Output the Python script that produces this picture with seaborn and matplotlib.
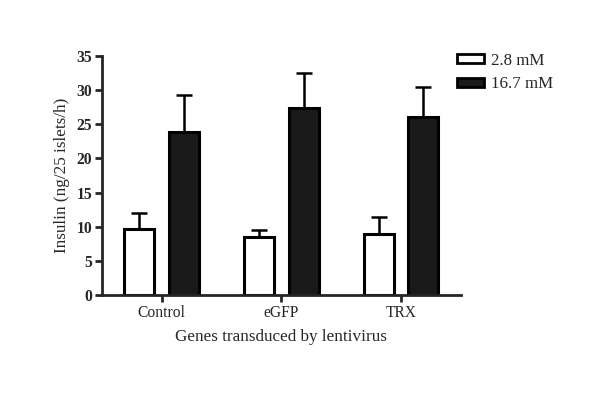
import matplotlib
matplotlib.use("Agg")
import matplotlib.pyplot as plt
import seaborn as sns
import pandas as pd
import numpy as np

genes = ["Control", "eGFP", "TRX"]
conditions = ["2.8 mM", "16.7 mM"]
mean_low = [9.6, 8.5, 8.9]
mean_high = [23.9, 27.4, 26.1]
err_low = [2.4, 1.0, 2.5]
err_high = [5.4, 5.1, 4.3]

sns.set_style("ticks")
plt.rcParams['font.family'] = ['Liberation Serif', 'DejaVu Serif']

df = pd.DataFrame({
    "gene": genes * 2,
    "cond": [conditions[0]] * 3 + [conditions[1]] * 3,
    "val": mean_low + mean_high,
    "err": err_low + err_high,
})

fig = plt.figure(figsize=(6, 4), dpi=100)
ax = fig.add_axes([0.17, 0.2625, 0.598, 0.5975])

sns.barplot(data=df, x="gene", y="val", hue="cond", order=genes,
            hue_order=conditions, palette=["white", "#1a1a1a"],
            width=0.75, gap=1/3, edgecolor="black", linewidth=2.2,
            errorbar=None, ax=ax)

# error bars (upper only)
for cont, cond in zip(ax.containers, conditions):
    sub = df[df["cond"] == cond].set_index("gene").loc[genes]
    xs = [p.get_x() + p.get_width() / 2 for p in cont.patches]
    ax.errorbar(xs, sub["val"].values,
                yerr=[np.zeros(len(xs)), sub["err"].values],
                fmt="none", ecolor="black", elinewidth=1.8, capsize=6,
                capthick=1.8, zorder=1)

ax.set_xlim(-0.5, 2.5)
ax.set_ylim(0, 35)
ax.set_yticks(range(0, 36, 5))
ax.set_ylabel("Insulin (ng/25 islets/h)", fontsize=12.3, labelpad=5)
ax.set_xlabel("Genes transduced by lentivirus", fontsize=12.3, labelpad=6)
for lbl in ax.get_yticklabels():
    lbl.set_fontweight("bold")
    lbl.set_fontsize(11.3)
for lbl in ax.get_xticklabels():
    lbl.set_fontsize(11.2)

sns.despine(ax=ax)
for s in ["left", "bottom"]:
    ax.spines[s].set_linewidth(2)
ax.tick_params(width=2, length=5, direction="out", pad=2)

leg = ax.legend(loc="upper left", bbox_to_anchor=(0.762, 0.868),
                bbox_transform=fig.transFigure, frameon=False,
                fontsize=12.2, handlelength=1.6, handleheight=0.45,
                handletextpad=0.4, labelspacing=0.45, title=None,
                borderaxespad=0, borderpad=0)
for h in leg.legend_handles:
    h.set_linewidth(2)

fig.savefig("out.png", dpi=100)
